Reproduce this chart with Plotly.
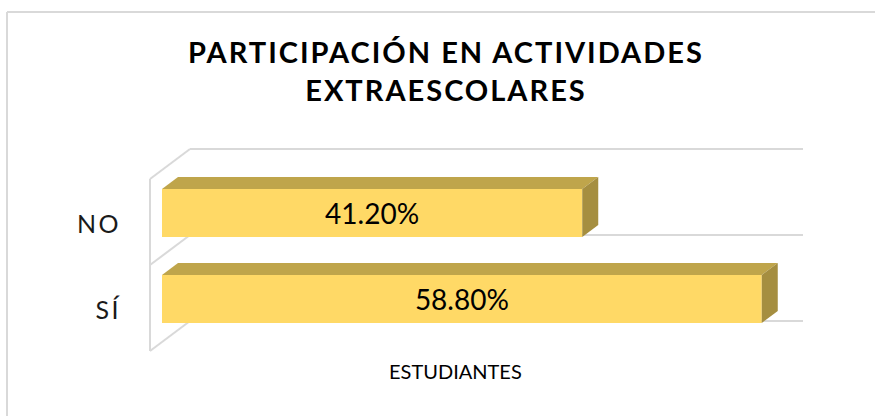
import plotly.graph_objects as go

# --- data ---
categories = ["SÍ", "NO"]
values = [58.8, 41.2]
title_lines = ["PARTICIPACIÓN EN ACTIVIDADES", "EXTRAESCOLARES"]
axis_label = "ESTUDIANTES"

# --- style and pixel layout ---
W, H = 875, 416
PX_PER_X = 10.2
PX_PER_Y = 86
L, R, T, B = 140, 72, 140, 56
X0_PX, Y0_PX = 162, 310
FRONT, TOP, SIDE, WALL = "#FFD966", "#BFA54B", "#A58E40", "#D9D9D9"
FONT = "Lato, Carlito, Calibri, sans-serif"

x_of = lambda px: (px - X0_PX) / PX_PER_X
y_of = lambda py: (Y0_PX - py) / PX_PER_Y

pos = list(range(len(categories)))
bar_w = 48 / PX_PER_Y
bar_off = -13 / PX_PER_Y
dx, dy = 16 / PX_PER_X, 12 / PX_PER_Y

fig = go.Figure()
fig.add_bar(
    y=pos, x=values, orientation="h", width=bar_w, offset=bar_off,
    marker=dict(color=FRONT, line=dict(width=0)),
    text=[f"{v:.2f}%" for v in values], textposition="inside",
    insidetextanchor="middle", textangle=0, constraintext="none",
    textfont=dict(family=FONT, size=28, color="#000000"),
    hoverinfo="skip", showlegend=False,
)

for p, v in zip(pos, values):
    yb = p + bar_off
    yt = yb + bar_w
    fig.add_scatter(x=[0, v, v + dx, dx, 0], y=[yt, yt, yt + dy, yt + dy, yt],
                    mode="lines", fill="toself", fillcolor=TOP, line=dict(width=0),
                    hoverinfo="skip", showlegend=False)
    fig.add_scatter(x=[v, v + dx, v + dx, v, v], y=[yb, yb + dy, yt + dy, yt, yb],
                    mode="lines", fill="toself", fillcolor=SIDE, line=dict(width=0),
                    hoverinfo="skip", showlegend=False)

# 3D wall: front edge, slanted floor lines and back gridlines
wx0, wx1, wx2 = x_of(150), x_of(190), x_of(803)
wdy = 30 / PX_PER_Y
wall_levels = [y_of(351), y_of(265), y_of(179)]
shapes = []
def wall_line(xa, ya, xb, yb):
    shapes.append(dict(type="line", xref="x", yref="y", x0=xa, y0=ya, x1=xb, y1=yb,
                       layer="below", line=dict(color=WALL, width=2)))
wall_line(wx0, wall_levels[0], wx0, wall_levels[-1])
for g in wall_levels:
    wall_line(wx0, g, wx1, g + wdy)
    wall_line(wx1, g + wdy, wx2, g + wdy)

# outer chart border (left and top only are in frame)
plot_w, plot_h = W - L - R, H - T - B
bx = (7 - L) / plot_w
by = 1 + (T - 12) / plot_h
shapes.append(dict(type="line", xref="paper", yref="paper", x0=bx, x1=bx,
                   y0=-B / plot_h, y1=by, line=dict(color=WALL, width=2), layer="below"))
shapes.append(dict(type="line", xref="paper", yref="paper", x0=bx, x1=(W - L) / plot_w,
                   y0=by, y1=by, line=dict(color=WALL, width=2), layer="below"))

fig.update_layout(
    width=W, height=H, margin=dict(l=L, r=R, t=T, b=B, pad=0),
    paper_bgcolor="white", plot_bgcolor="rgba(0,0,0,0)", shapes=shapes,
    hovermode=False, showlegend=False,
    title=dict(text="<br>".join(title_lines), x=446 / W, xanchor="center",
               y=1 - 63 / H, yanchor="top",
               font=dict(family=FONT, size=29, color="#000000", weight="bold")),
    xaxis=dict(range=[x_of(L), x_of(W - R)], showgrid=False, zeroline=False,
               showticklabels=False, showline=False, ticks=""),
    yaxis=dict(range=[y_of(H - B), y_of(T)], tickvals=pos, ticktext=categories,
               showgrid=False, zeroline=False, showline=False, ticks="",
               ticklabelstandoff=18,
               tickfont=dict(family=FONT, size=25, color="#1A1A1A")),
    annotations=[dict(text=axis_label, xref="paper", yref="paper",
                      x=(455 - L) / plot_w, y=(H - B - 371) / plot_h,
                      showarrow=False, xanchor="center", yanchor="middle",
                      font=dict(family=FONT, size=20, color="#000000"))],
)

page_fix = """
document.body.style.margin = '0';
document.querySelectorAll('.gtitle').forEach(e => e.style.letterSpacing = '2px');
document.querySelectorAll('.ytick text').forEach(e => e.style.letterSpacing = '2.5px');
"""
fig.write_html("out.html", post_script=page_fix, config=dict(displayModeBar=False))
